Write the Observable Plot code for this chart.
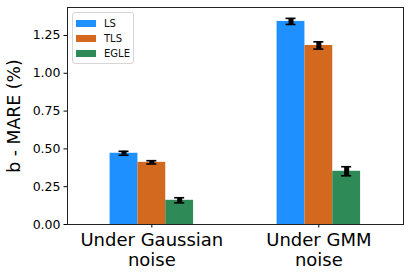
<!DOCTYPE html>
<html>
<head>
<meta charset="utf-8">
<script src="https://cdn.jsdelivr.net/npm/d3@7"></script>
<script src="https://cdn.jsdelivr.net/npm/@observablehq/plot@0.6"></script>
<style>
  html, body { margin: 0; padding: 0; background: #fff; }
  #wrap { position: relative; width: 409px; height: 277px; font-family: "DejaVu Sans", sans-serif; }
  #legend { position: absolute; left: 72px; top: 12px; width: 60px; padding: 3px 0 2px 0;
            border: 1px solid #d6d6d6; border-radius: 3px; background: rgba(255,255,255,0.8); }
  .item { display: flex; align-items: center; height: 15px; font-size: 10px; color: #111; }
  .sw { width: 20px; height: 7px; margin: 0 8px 0 3px; }
</style>
</head>
<body>
<div id="wrap"><div id="legend"></div></div>
<script>
const groups = ["Under Gaussian\nnoise", "Under GMM\nnoise"];
const methods = ["LS", "TLS", "EGLE"];
const colors = ["#1E90FF", "#D2691E", "#2E8B57"];
const lsValues = [0.471, 1.343];
const tlsValues = [0.411, 1.184];
const egleValues = [0.160, 0.352];
const lsErr = [0.013, 0.020];
const tlsErr = [0.011, 0.024];
const egleErr = [0.017, 0.030];
const yTicks = [0, 0.25, 0.5, 0.75, 1.0, 1.25];
const yLabel = "b - MARE (%)";

const series = [lsValues, tlsValues, egleValues];
const errs = [lsErr, tlsErr, egleErr];
const barW = 1 / 6;
const data = [];
methods.forEach((m, i) => {
  groups.forEach((g, gi) => {
    const c = gi + (i - 1) * barW;
    data.push({method: m, group: gi, c, x1: c - barW / 2, x2: c + barW / 2,
               v: series[i][gi], lo: series[i][gi] - errs[i][gi], hi: series[i][gi] + errs[i][gi]});
  });
});

const chart = Plot.plot({
  width: 409,
  height: 277,
  marginLeft: 67,
  marginRight: 6,
  marginTop: 7,
  marginBottom: 53,
  style: {fontFamily: "DejaVu Sans, sans-serif", fontSize: "12.5px", color: "#000", background: "#fff"},
  x: {type: "linear", domain: [-0.505, 1.507]},
  y: {domain: [0, 1.435]},
  color: {domain: methods, range: colors},
  marks: [
    Plot.rectY(data, {x1: "x1", x2: "x2", y1: 0, y2: "v", fill: "method"}),
    Plot.ruleX(data, {x: "c", y1: "lo", y2: "hi", stroke: "#000", strokeWidth: 5}),
    Plot.ruleY(data, {y: "lo", x1: d => d.c - 0.03, x2: d => d.c + 0.03, stroke: "#000", strokeWidth: 1.6}),
    Plot.ruleY(data, {y: "hi", x1: d => d.c - 0.03, x2: d => d.c + 0.03, stroke: "#000", strokeWidth: 1.6}),
    Plot.axisY({ticks: yTicks, tickFormat: d => d.toFixed(2), tickSize: 3.5, tickPadding: 3.5,
                label: null, fontSize: 12.5}),
    Plot.text([yLabel], {frameAnchor: "left", rotate: -90, dx: -53.5, textAnchor: "middle",
                         lineAnchor: "middle", fontSize: 17.3, fill: "#000"}),
    Plot.axisX({ticks: [0, 1], tickFormat: i => groups[i], tickSize: 3.5, tickPadding: 4,
                label: null, fontSize: 18, lineHeight: 1.1}),
    Plot.frame({stroke: "#222", strokeWidth: 1})
  ]
});
document.getElementById("wrap").prepend(chart);

const legend = document.getElementById("legend");
methods.forEach((m, i) => {
  const it = document.createElement("div");
  it.className = "item";
  it.innerHTML = `<span class="sw" style="background:${colors[i]}"></span><span>${m}</span>`;
  legend.appendChild(it);
});
</script>
</body>
</html>
